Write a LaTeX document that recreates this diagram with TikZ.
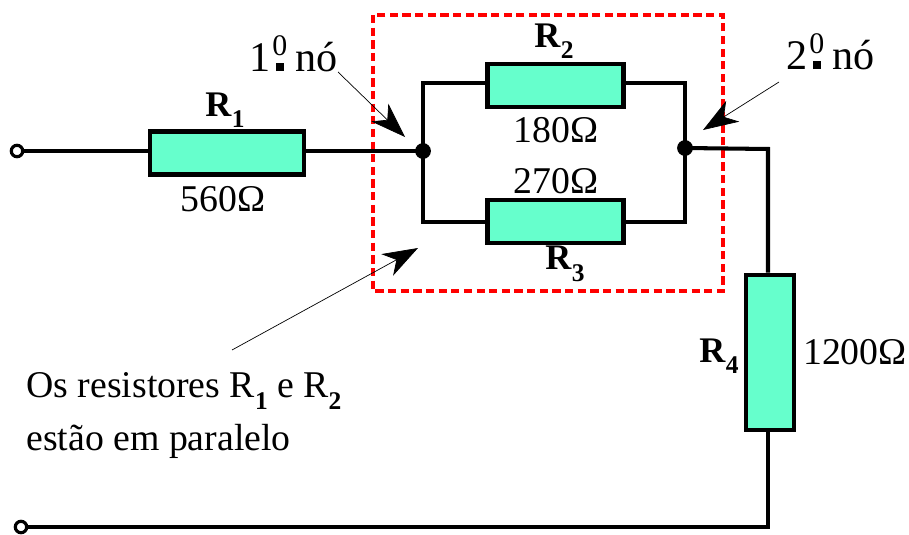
\documentclass[tikz,border=0pt]{standalone}
\usepackage{fontspec}
\setmainfont{Liberation Serif}
\usetikzlibrary{arrows.meta,positioning}
\definecolor{resfill}{RGB}{102,255,204}
\newcommand{\ordz}{\makebox[.42em][c]{\rule{.2em}{.2em}}\hspace{-.42em}\raisebox{.36em}{\makebox[.42em][c]{\fontsize{17}{17}\selectfont 0}}}
\newcommand{\subnum}[1]{\raisebox{-.32em}{\fontsize{14.5}{14.5}\selectfont\textbf{#1}}}
\newcommand{\resname}[2]{{\fontsize{20.5}{22}\selectfont\textbf{#1}\subnum{#2}}}
\tikzset{
	resbox/.style={draw=black,line width=2.4pt,fill=resfill,inner sep=0pt},
	wire/.style={line width=2.3pt,line join=miter},
	junction/.style={circle,fill=black,inner sep=0pt,minimum size=9pt},
	terminal/.style={circle,draw=black,fill=white,line width=1.8pt,inner sep=0pt,minimum size=6.5pt},
	pointer/.style={thin,-{Stealth[length=20pt,width=14pt,inset=6pt]}},
	lbl/.style={inner sep=0pt,font=\fontsize{21.5}{24}\selectfont}
}
\begin{document}
\begin{tikzpicture}[x=0.02cm,y=-0.02cm]
	\useasboundingbox (0,0) rectangle (909,534);

	% dashed frame
	\draw[red,line width=2.7pt,dash pattern=on 4.7pt off 2.5pt] (373,15) rectangle (723,291);

	% terminals and junctions
	\node[terminal] (inA) at (17,151) {};
	\node[terminal] (inB) at (21,527) {};
	\coordinate (cornerA) at (768,149);
	\coordinate (cornerB) at (768,527);
	\coordinate (topL) at (423,83);
	\coordinate (topR) at (685,83);
	\coordinate (botL) at (423,222);
	\coordinate (botR) at (685,222);
	\coordinate (nodeA) at (423,151);
	\coordinate (nodeB) at (685,148);

	% resistors
	\node[resbox,minimum width=88pt,minimum height=24.5pt] (R1) at (227,153) {};
	\node[resbox,minimum width=77.5pt,minimum height=24.5pt] (R2) at (555.5,85.5) {};
	\node[resbox,minimum width=77.5pt,minimum height=24.5pt] (R3) at (555.5,221.5) {};
	\node[resbox,minimum width=27pt,minimum height=88.5pt] (R4) at (770,352.5) {};

	% wires
	\draw[wire] (inA) -- (R1.west |- inA);
	\draw[wire] (R1.east |- nodeA) -- (nodeA);
	\draw[wire] (nodeA) -- (topL) -- (R2.west |- topL);
	\draw[wire] (R2.east |- topR) -- (topR) -- (nodeB);
	\draw[wire] (nodeA) -- (botL) -- (R3.west |- botL);
	\draw[wire] (R3.east |- botR) -- (botR) -- (nodeB);
	\draw[wire] (nodeB) -- (cornerA) -- (cornerA |- R4.north);
	\draw[wire] (cornerA |- R4.south) -- (cornerB) -- (inB);
	\node[junction] (J1) at (nodeA) {};
	\node[junction] (J2) at (nodeB) {};

	% labels
	\node[lbl] (nameR1) at (225,110) {\resname{R}{1}};
	\node[lbl] (valR1) at (223,199) {560Ω};
	\node[lbl] (nameR2) at (554,41) {\resname{R}{2}};
	\node[lbl] (valR2) at (556,130) {180Ω};
	\node[lbl] (valR3) at (556,181) {270Ω};
	\node[lbl] (nameR3) at (565,264) {\resname{R}{3}};
	\node[lbl] (nameR4) at (719,356) {\resname{R}{4}};
	\node[lbl] (valR4) at (855,352) {1200Ω};
	\node[lbl,anchor=base,font=\fontsize{24}{26}\selectfont] (first) at (294,71) {1\ordz{}\hspace{-.08em} nó};
	\node[lbl,anchor=base,font=\fontsize{24}{26}\selectfont] (second) at (831,69) {2\ordz{}\hspace{-.08em} nó};
	\node[lbl,anchor=base west] (noteA) at (26,397) {Os resistores R\subnum{1} e R\subnum{2}};
	\node[lbl,anchor=base west] (noteB) at (26,450) {estão em paralelo};

	% pointers
	\coordinate (tipA) at (405,137);
	\coordinate (tipB) at (703,130);
	\coordinate (tipC) at (418,248);
	\coordinate (tailA) at (338,72);
	\coordinate (tailB) at (779,82);
	\coordinate (tailC) at (232,350);
	\draw[pointer] (tailA) -- (tipA);
	\draw[pointer] (tailB) -- (tipB);
	\draw[pointer] (tailC) -- (tipC);
\end{tikzpicture}
\end{document}
